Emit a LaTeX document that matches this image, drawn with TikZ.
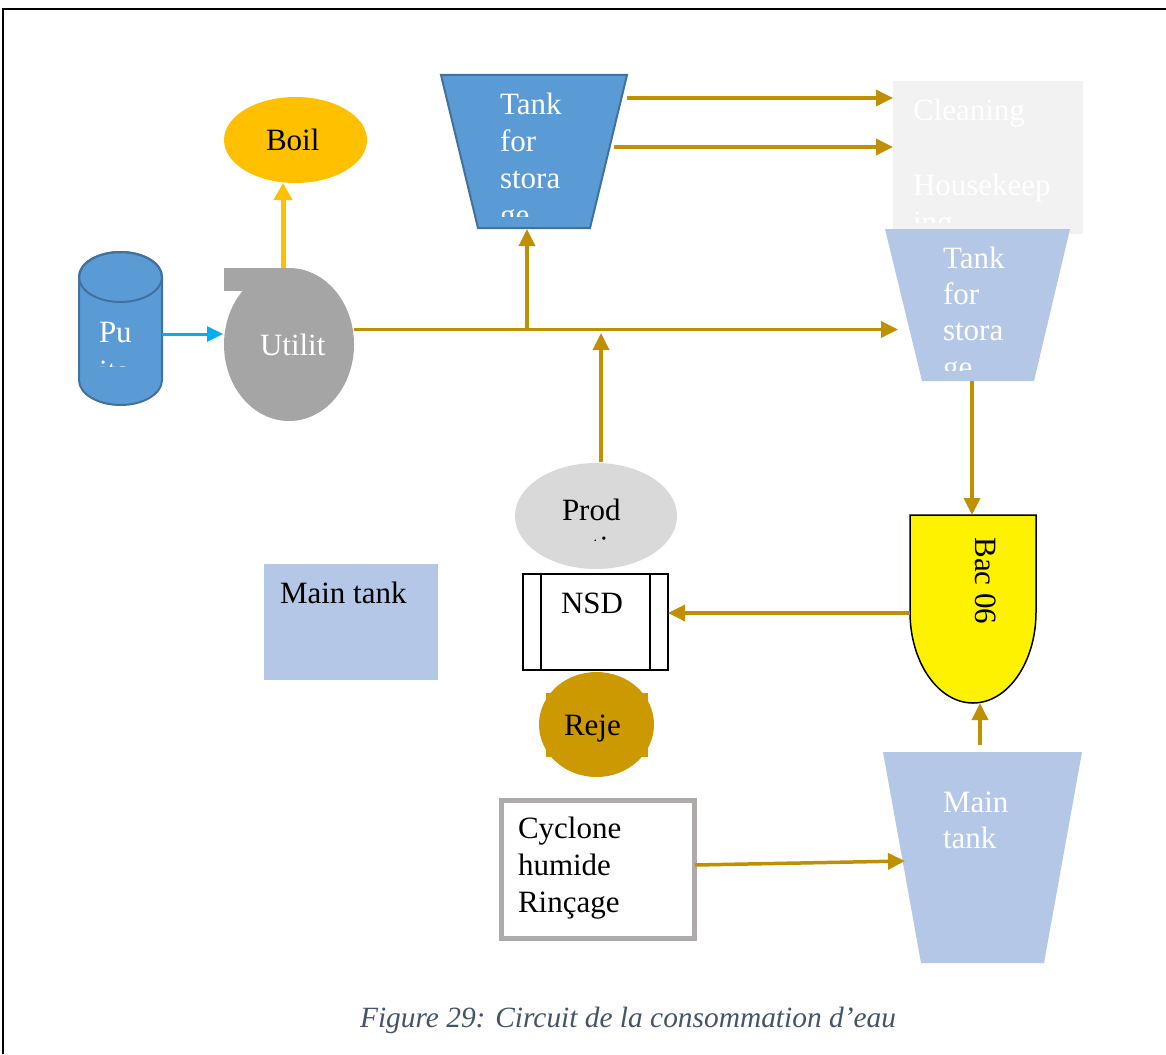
\documentclass[tikz,border=0pt]{standalone}
\usepackage{fontspec}
\setmainfont{Liberation Serif}
\usetikzlibrary{arrows.meta}
\definecolor{gold}{HTML}{BF9000}
\definecolor{amber}{HTML}{FFC000}
\definecolor{blueacc}{HTML}{5B9BD5}
\definecolor{blueedge}{HTML}{41719C}
\definecolor{paleblue}{HTML}{B4C7E7}
\definecolor{pumpgray}{HTML}{A5A5A5}
\definecolor{skyline}{HTML}{00B0F0}
\definecolor{rejcol}{HTML}{CC9900}
\definecolor{capcol}{HTML}{44546A}
\definecolor{boxgray}{HTML}{F2F2F2}
\definecolor{prodgray}{HTML}{D9D9D9}
\definecolor{cycedge}{HTML}{AEAAAA}
\begin{document}
\begin{tikzpicture}[x=0.5pt,y=-0.5pt,
  flow/.style={draw=gold, line width=1.75pt, -{Triangle[length=8.5pt,width=8pt]}},
  lbl/.style={anchor=base west, inner sep=0pt, outer sep=0pt, font=\fontsize{15.5}{18.5}\selectfont},
  wlbl/.style={lbl, text=white}]
\useasboundingbox (0,0) rectangle (1166,1054);
\fill[white] (0,0) rectangle (1166,1054);
% frame
\draw[line width=1.3pt] (3,1054) -- (3,9) -- (1166,9);

% cylinder (Puits)
\filldraw[fill=blueacc, draw=blueedge, line width=1pt]
  (79,277) -- (79,380) arc[start angle=180, end angle=0, x radius=41.5, y radius=25]
  -- (162,277) arc[start angle=0, end angle=-180, x radius=41.5, y radius=25] -- cycle;
\draw[blueedge, line width=1pt] (120.5,277) ellipse[x radius=41.5, y radius=25];
\begin{scope}
  \clip (79,300) rectangle (162,366);
  \node[wlbl] (pu) at (99,342) {Pu};
  \node[wlbl] (pu2) at (99,381) {its};
\end{scope}

% pump (Utility)
\fill[pumpgray] (289,344.5) ellipse[x radius=65, y radius=76.5];
\fill[pumpgray] (224,268) rectangle (289,291);
\node[wlbl] (util) at (260,355) {Utilit};

% boiler
\fill[amber] (295.5,140) ellipse[x radius=71.5, y radius=43];
\node[lbl] (boil) at (266,150) {Boil};

% tank for storage 1
\filldraw[fill=blueacc, draw=blueedge, line width=1pt]
  (441,75) -- (627,75) -- (590,228) -- (478,228) -- cycle;
\begin{scope}
  \clip (480,80) rectangle (600,216);
  \node[wlbl] (ta1) at (500,114) {Tank};
  \node[wlbl] (ta2) at (500,151) {for};
  \node[wlbl] (ta3) at (500,188) {stora};
  \node[wlbl] (ta4) at (500,225) {ge};
\end{scope}

% cleaning / housekeeping box
\fill[boxgray] (893,81) rectangle (1083,234);
\begin{scope}
  \clip (893,81) rectangle (1083,222);
  \node[wlbl] (cl1) at (913,120) {Cleaning};
  \node[wlbl] (cl2) at (913,195) {Housekeep};
  \node[wlbl] (cl3) at (913,232) {ing};
\end{scope}

% tank for storage 2
\fill[paleblue] (885,229) -- (1070,229) -- (1034,381) -- (922,381) -- cycle;
\begin{scope}
  \clip (885,229) rectangle (1070,370);
  \node[wlbl] (tb1) at (943,268) {Tank};
  \node[wlbl] (tb2) at (943,304) {for};
  \node[wlbl] (tb3) at (943,340) {stora};
  \node[wlbl] (tb4) at (943,377) {ge};
\end{scope}

% Bac 06
\filldraw[fill=yellow, draw=black, line width=0.75pt]
  (910,515) -- (1036,515) -- (1036,612)
  arc[start angle=0, end angle=180, x radius=63, y radius=91] -- cycle;
\node[rotate=-90, inner sep=0pt, font=\fontsize{15.5}{18.5}\selectfont] (bac) at (986,581) {Bac 06};

% production
\fill[prodgray] (596,516) ellipse[x radius=81, y radius=53];
\begin{scope}
  \clip (515,463) rectangle (677,540);
  \node[lbl] (prod) at (562,520) {Prod};
  \node[lbl] (prod2) at (562,557) {uction};
\end{scope}

% NSD
\draw[black, line width=0.75pt, fill=white] (523,574) rectangle (668,670);
\draw[black, line width=0.75pt] (541,574) -- (541,670) (650,574) -- (650,670);
\node[lbl] (nsd) at (561,613) {NSD};

% Rejet
\fill[rejcol] (596.5,724.5) ellipse[x radius=57.5, y radius=52.5];
\fill[rejcol] (546,693) rectangle (648,757);
\node[lbl] (reje) at (564,735) {Reje};

% main tank (left)
\fill[paleblue] (264,564) rectangle (438,680);
\node[lbl] (mt) at (280,603) {Main tank};

% cyclone box
\draw[cycedge, line width=2.5pt, fill=white] (501.5,800) rectangle (694.5,938.5);
\node[lbl] (cy1) at (518,838) {Cyclone};
\node[lbl] (cy2) at (518,875) {humide};
\node[lbl] (cy3) at (518,912) {Rinçage};

% main tank 2
\fill[paleblue] (883,752) -- (1082,752) -- (1044,963) -- (921,963) -- cycle;
\node[wlbl] (mt2a) at (943,812) {Main};
\node[wlbl] (mt2b) at (943,848) {tank};

% caption
\node[anchor=base, inner sep=0pt, text=capcol, font=\fontsize{14.7}{17}\selectfont\itshape] (cap) at (628,1027)
  {Figure 29: Circuit de la consommation d’eau};

% connection points
\coordinate (cylE) at (162,334);
\coordinate (pumpW) at (223,334);
\coordinate (pumpN) at (283,268);
\coordinate (boilS) at (283,183);
\coordinate (pumpE) at (354,329.5);
\coordinate (t2W) at (898,329.5);
\coordinate (j1) at (527,329.5);
\coordinate (t1S) at (527,229);
\coordinate (prodN) at (601,462);
\coordinate (j2) at (601,333);
\coordinate (t1Ea) at (627,98);
\coordinate (clWa) at (893,98);
\coordinate (t1Eb) at (614,147);
\coordinate (clWb) at (893,147);
\coordinate (t2S) at (972,381);
\coordinate (bacN) at (972,515);
\coordinate (bacW) at (910,613);
\coordinate (nsdE) at (668,613);
\coordinate (mt2N) at (980,745);
\coordinate (bacS) at (980,703);
\coordinate (cyE) at (695,865);
\coordinate (mt2W) at (905,861);

% connectors
\draw[draw=skyline, line width=1.5pt, -{Triangle[length=8pt,width=7.5pt]}] (cylE) -- (pumpW);
\draw[draw=amber, line width=2.5pt, -{Triangle[length=8.5pt,width=9pt]}] (pumpN) -- (boilS);
\draw[flow] (pumpE) -- (t2W);
\draw[flow] (j1) -- (t1S);
\draw[flow] (prodN) -- (j2);
\draw[flow] (t1Ea) -- (clWa);
\draw[flow] (t1Eb) -- (clWb);
\draw[flow] (t2S) -- (bacN);
\draw[flow] (bacW) -- (nsdE);
\draw[flow] (mt2N) -- (bacS);
\draw[flow] (cyE) -- (mt2W);
\end{tikzpicture}
\end{document}
